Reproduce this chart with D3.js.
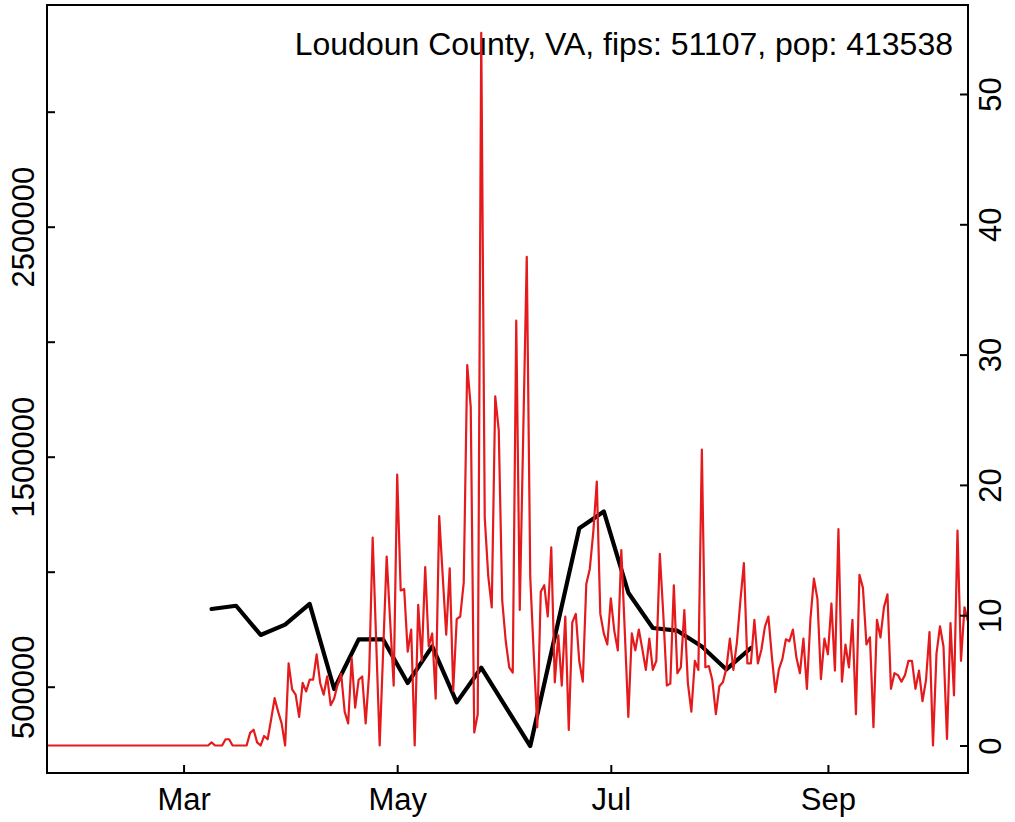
<!DOCTYPE html>
<html><head><meta charset="utf-8">
<script src="https://cdn.jsdelivr.net/npm/d3@7"></script>
<style>
body{margin:0;background:#fff}
svg{display:block}
text{font-family:"Liberation Sans",Arial,Helvetica,sans-serif}
</style>
</head><body>
<svg id="chart" width="1015" height="822"></svg>
<script>
// ---------------- data ----------------
const title = "Loudoun County, VA, fips: 51107, pop: 413538";

// daily values (right axis), one per day starting at redStart
const redStart = "2020-01-22";
const redValues = [
  0,0,0,0,0,0,0,0,0,0,
  0,0,0,0,0,0,0,0,0,0,
  0,0,0,0,0,0,0,0,0,0,
  0,0,0,0,0,0,0,0,0,0,
  0,0,0,0,0,0,0,0.24,0,0,
  0,0.48,0.48,0,0,0,0,0,0.97,1.21,
  0.24,0,0.73,0.48,2.0,3.63,2.6,1.7,0,6.3,
  4.3,3.9,2.2,4.8,4.15,5.05,5.05,7.0,4.8,3.9,
  5.3,3.1,3.6,4.7,5.5,2.6,1.7,6.7,2.9,5.05,
  5.3,1.7,5.6,15.95,8.0,0,7.3,14.5,9.5,4.6,
  20.8,11.9,12.0,7.2,8.9,0,10.8,6.5,13.7,7.6,
  8.6,3.6,17.6,13.0,8.5,13.6,4.2,9.7,9.9,12.5,
  29.2,26.0,1.0,2.4,54.7,17.5,13,10.6,26.8,24.2,
  11.1,8.0,6.0,5.6,32.6,10.4,24,37.5,12.9,7.0,
  1.4,11.8,12.3,9.9,15.2,4.85,8.45,4.6,9.9,1.2,
  9.45,10.1,6.45,4.9,12.4,13.55,16.4,20.25,10.1,8.6,
  7.75,11.3,8.8,7.3,15.0,8.7,2.2,8.6,7.3,8.9,
  7.4,5.8,8.2,5.8,6.5,14.7,10,4.6,4.75,12.3,
  5.55,6.0,10.4,4.8,2.6,6.5,5.8,22.7,6.0,6.1,
  5.0,2.4,4.55,4.85,5.9,8.2,5.8,7.9,11.1,14.0,
  6.3,6.3,9.65,6.3,7.35,9.1,9.9,6.8,4.1,5.85,
  6.65,8.15,8.0,8.9,6.75,5.55,8.2,4.35,9.7,12.8,
  11.25,5.1,8.2,7.0,10.9,5.75,16.6,4.9,7.75,6.0,
  9.65,2.4,13.1,12.1,7.75,8.3,1.4,9.65,8.3,10.6,
  11.6,4.35,5.55,5.4,4.9,5.4,6.5,6.5,4.35,5.75,
  3.4,5.0,8.7,0,7.05,9.15,7.6,0.5,9.4,3.85,
  16.5,6.5,10.6,9.5
];

// weekly values (left axis)
const blackDates = ["2020-03-09","2020-03-16","2020-03-23","2020-03-30","2020-04-06",
  "2020-04-13","2020-04-20","2020-04-27","2020-05-04","2020-05-11","2020-05-18",
  "2020-05-25","2020-06-08","2020-06-22","2020-06-29","2020-07-06","2020-07-13",
  "2020-07-20","2020-07-27","2020-08-03","2020-08-10"];
const blackValues = [838000,852000,725000,770000,860000,
  490000,705600,705600,516000,675000,431700,
  582600,242000,1189000,1262000,908700,755200,
  743500,675200,575200,668300];

// axes
const xDomain = ["2020-01-22","2020-10-11"];
const xTickDates = ["2020-03-01","2020-05-01","2020-07-01","2020-09-01"];
const xTickLabels = ["Mar","May","Jul","Sep"];
const leftDomain = [124800, 3463900];
const leftTicks = [500000,1000000,1500000,2000000,2500000,3000000];
const leftTickLabels = ["500000","","1500000","","2500000",""];
const rightDomain = [-2.11, 56.83];
const rightTicks = [0,10,20,30,40,50];

// ---------------- drawing ----------------
const parse = d3.utcParse("%Y-%m-%d");
const L = 47, R = 968, T = 5, B = 773;
const FS = 31;

const svg = d3.select("#chart");
svg.append("rect").attr("width",1015).attr("height",822).attr("fill","#fff");

const x = d3.scaleUtc().domain(xDomain.map(parse)).range([L, R]);
const yL = d3.scaleLinear().domain(leftDomain).range([B, T]);
const yR = d3.scaleLinear().domain(rightDomain).range([B, T]);

svg.append("defs").append("clipPath").attr("id","plotclip")
  .append("rect").attr("x",L).attr("y",T).attr("width",R-L).attr("height",B-T);

// title
svg.append("text").attr("x",953).attr("y",55).attr("text-anchor","end")
  .attr("font-size",32).attr("fill","#000").text(title);

// black weekly line
const blackData = blackDates.map((d,i)=>({date:parse(d), v:blackValues[i]}));
svg.append("path").datum(blackData)
  .attr("clip-path","url(#plotclip)")
  .attr("fill","none").attr("stroke","#000").attr("stroke-width",4.2)
  .attr("stroke-linejoin","round").attr("stroke-linecap","round")
  .attr("d", d3.line().x(d=>x(d.date)).y(d=>yL(d.v)));

// red daily line
const s0 = parse(redStart);
const redData = redValues.map((v,i)=>({date:d3.utcDay.offset(s0,i), v}));
svg.append("path").datum(redData)
  .attr("clip-path","url(#plotclip)")
  .attr("fill","none").attr("stroke","#E41A1C").attr("stroke-width",2.2)
  .attr("stroke-linejoin","round").attr("stroke-linecap","round")
  .attr("d", d3.line().x(d=>x(d.date)).y(d=>yR(d.v)));

// box
svg.append("rect").attr("x",L).attr("y",T).attr("width",R-L).attr("height",B-T)
  .attr("fill","none").attr("stroke","#000").attr("stroke-width",2);

function styleAxis(g){
  g.select(".domain").remove();
  g.selectAll(".tick line").attr("stroke","#000").attr("stroke-width",2);
  g.selectAll(".tick text").attr("font-size",FS).attr("fill","#000")
   .attr("font-family",'"Liberation Sans",Arial,Helvetica,sans-serif');
}

// bottom axis
const gB = svg.append("g").attr("transform",`translate(0,${B})`)
  .call(d3.axisBottom(x).tickValues(xTickDates.map(parse))
    .tickFormat((d,i)=>xTickLabels[i]).tickSize(-8).tickSizeOuter(0));
styleAxis(gB);
gB.selectAll(".tick text").attr("y",37).attr("dy",null);

// left axis
const gL = svg.append("g").attr("transform",`translate(${L},0)`)
  .call(d3.axisLeft(yL).tickValues(leftTicks)
    .tickFormat((d,i)=>leftTickLabels[i]).tickSize(-8).tickSizeOuter(0));
styleAxis(gL);
gL.selectAll(".tick text").attr("transform","rotate(-90)")
  .attr("x",0).attr("y",-13).attr("dy",null).attr("text-anchor","middle");

// right axis
const gR = svg.append("g").attr("transform",`translate(${R},0)`)
  .call(d3.axisRight(yR).tickValues(rightTicks)
    .tickFormat(d3.format("d")).tickSize(-8).tickSizeOuter(0));
styleAxis(gR);
gR.selectAll(".tick text").attr("transform","rotate(-90)")
  .attr("x",0).attr("y",33).attr("dy",null).attr("text-anchor","middle");
</script>
</body></html>
